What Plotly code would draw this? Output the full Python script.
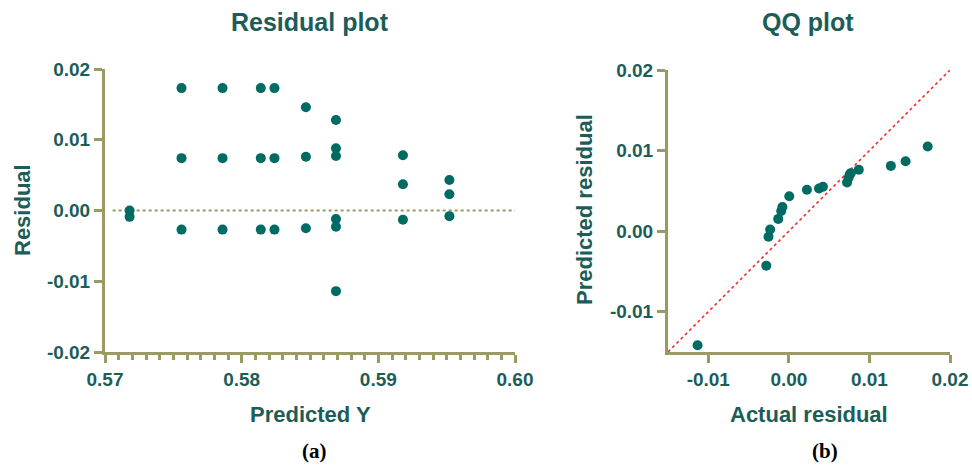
import plotly.graph_objects as go

# ---- Data: residual plot ----
pred_y = [0.5718, 0.5718,
          0.5756, 0.5756, 0.5756,
          0.5786, 0.5786, 0.5786,
          0.5814, 0.5814, 0.5814,
          0.5824, 0.5824, 0.5824,
          0.5847, 0.5847, 0.5847,
          0.5869, 0.5869, 0.5869, 0.5869, 0.5869, 0.5869,
          0.5918, 0.5918, 0.5918,
          0.5952, 0.5952, 0.5952]
residual = [0.0000, -0.0009,
            0.0173, 0.0074, -0.0027,
            0.0173, 0.0074, -0.0027,
            0.0173, 0.0074, -0.0027,
            0.0173, 0.0074, -0.0027,
            0.0146, 0.0076, -0.0025,
            0.0128, 0.0088, 0.0077, -0.0012, -0.0023, -0.0114,
            0.0078, 0.0037, -0.0013,
            0.0043, 0.0023, -0.0008]

# ---- Data: QQ plot ----
actual_res = [-0.01133, -0.00280, -0.00253, -0.00232, -0.00132, -0.00095, -0.00080,
              0.00005, 0.00224, 0.00374, 0.00423, 0.00722, 0.00740, 0.00755,
              0.00768, 0.00868, 0.01266, 0.01449, 0.01723]
predicted_res = [-0.01417, -0.00428, -0.00070, 0.00020, 0.00152, 0.00250, 0.00300,
                 0.00433, 0.00513, 0.00529, 0.00550, 0.00604, 0.00660, 0.00700,
                 0.00720, 0.00763, 0.00810, 0.00867, 0.01050]

zero_line_x = [0.57056, 0.600]
zero_line_y = [0.0, 0.0]
ident_line = [-0.015, 0.020]

left_xticks = [0.57, 0.58, 0.59, 0.60]
left_xlabels = ["0.57", "0.58", "0.59", "0.60"]
left_yticks = [-0.02, -0.01, 0.0, 0.01, 0.02]
left_ylabels = ["-0.02", "-0.01", "0.00", "0.01", "0.02"]
right_xticks = [-0.01, 0.0, 0.01, 0.02]
right_xlabels = ["-0.01", "0.00", "0.01", "0.02"]
right_yticks = [-0.01, 0.0, 0.01, 0.02]
right_ylabels = ["-0.01", "0.00", "0.01", "0.02"]

# body margin removed by post_script; figure fills the 972x466 window
W, H = 972, 466
TEAL_TXT = "#1c5d58"
MARK = "#006b62"
OLIVE = "#9b9a62"
FONT = "Liberation Sans"

def px(x):
    return x / W

def py(y):
    return 1 - y / H

def bold(labels):
    return ["<b>%s</b>" % s for s in labels]

fig = go.Figure()

fig.add_trace(go.Scatter(x=zero_line_x, y=zero_line_y, mode="lines",
                         line=dict(color=OLIVE, width=2.2, dash="dot"),
                         xaxis="x", yaxis="y", hoverinfo="skip", showlegend=False))
fig.add_trace(go.Scatter(x=pred_y, y=residual, mode="markers",
                         marker=dict(color=MARK, size=10),
                         xaxis="x", yaxis="y", showlegend=False))
fig.add_trace(go.Scatter(x=ident_line, y=ident_line, mode="lines",
                         line=dict(color="#e8312f", width=1.6, dash="dot"),
                         xaxis="x2", yaxis="y2", hoverinfo="skip", showlegend=False))
fig.add_trace(go.Scatter(x=actual_res, y=predicted_res, mode="markers",
                         marker=dict(color=MARK, size=10),
                         xaxis="x2", yaxis="y2", showlegend=False))

tickfont = dict(family=FONT, size=19, color=TEAL_TXT)
axis_common = dict(showline=True, linecolor=OLIVE, linewidth=3, ticks="outside",
                   ticklen=8, tickwidth=3, tickcolor=OLIVE, showgrid=False,
                   zeroline=False, tickfont=tickfont, layer="below traces",
                   automargin=False, ticklabeloverflow="allow")

fig.update_layout(
    width=W, height=H,
    margin=dict(l=0, r=0, t=0, b=0, autoexpand=False),
    paper_bgcolor="white", plot_bgcolor="white",
    xaxis=dict(domain=[px(105), px(515)], range=[0.57, 0.60],
               tickvals=left_xticks, ticktext=bold(left_xlabels), anchor="y",
               minor=dict(dtick=0.001, tick0=0.57, ticks="outside", ticklen=5,
                          tickwidth=2.5, tickcolor=OLIVE, showgrid=False),
               **axis_common),
    yaxis=dict(domain=[py(352), py(69)], range=[-0.02, 0.02],
               tickvals=left_yticks, ticktext=bold(left_ylabels), anchor="x",
               **axis_common),
    xaxis2=dict(domain=[px(668), px(950)], range=[-0.015, 0.02],
                tickvals=right_xticks, ticktext=bold(right_xlabels), anchor="y2",
                **axis_common),
    yaxis2=dict(domain=[py(352), py(70)], range=[-0.015, 0.02],
                tickvals=right_yticks, ticktext=bold(right_ylabels), anchor="x2",
                **axis_common),
)

def ann(text, x, y, size, rot=0, family=FONT, color=TEAL_TXT):
    fig.add_annotation(text=text, x=px(x), y=py(y), xref="paper", yref="paper",
                       showarrow=False, textangle=rot, xanchor="center", yanchor="middle",
                       font=dict(family=family, size=size, color=color))

ann("<b>Residual plot</b>", 310, 22, 25)
ann("<b>QQ plot</b>", 808, 22, 25)
ann("<b>Residual</b>", 22, 210, 22, rot=-90)
ann("<b>Predicted residual</b>", 584, 210, 22, rot=-90)
ann("<b>Predicted Y</b>", 310, 414, 22)
ann("<b>Actual residual</b>", 809, 414, 22)
ann("<b>(a)</b>", 314, 451, 21, family="Liberation Serif", color="black")
ann("<b>(b)</b>", 825, 451, 21, family="Liberation Serif", color="black")

fig.write_html("out.html",
               config={"displayModeBar": False},
               post_script="document.body.style.margin='0';"
                           "document.body.style.overflow='hidden';")
